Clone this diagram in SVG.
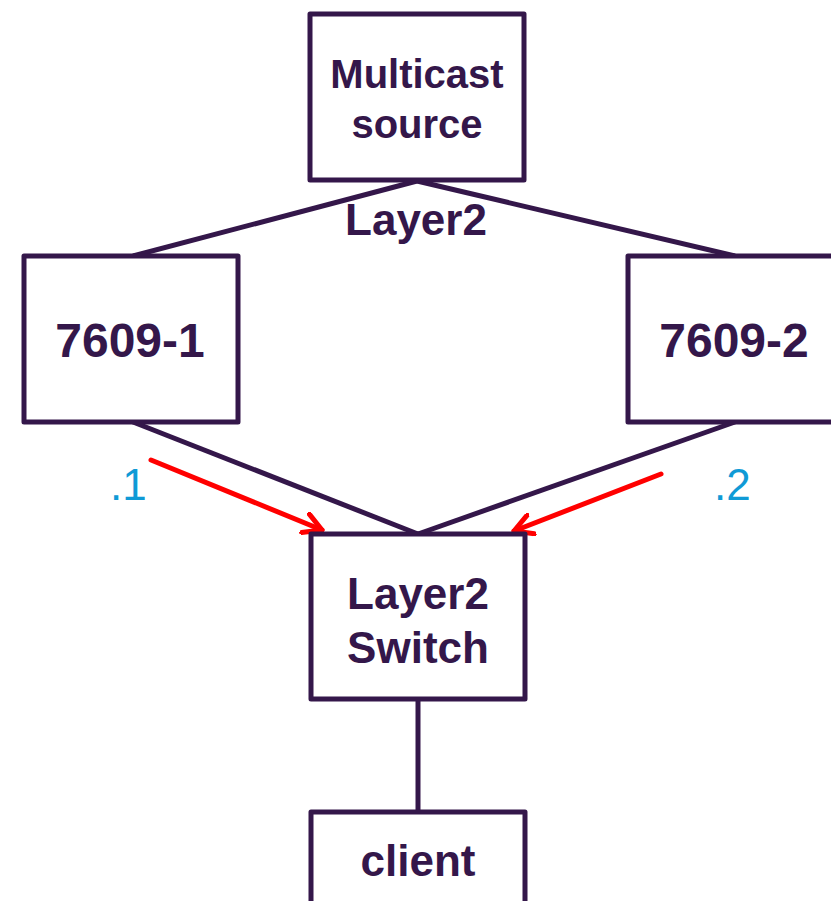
<svg xmlns="http://www.w3.org/2000/svg" width="831" height="901" viewBox="0 0 831 901">
<defs>
<style>
.box{fill:#fff;stroke:#34174a;stroke-width:5;stroke-linejoin:round}
.lbl{font-family:"Liberation Sans",Arial,sans-serif;font-weight:bold;fill:#34174a;text-anchor:middle}
.conn{stroke:#34174a;stroke-width:5;fill:none}
.red{stroke:#ff0000;stroke-width:5;fill:none;stroke-linecap:round}
.ip{font-family:"Liberation Sans",Arial,sans-serif;font-size:44px;fill:#0f9ad6}
</style>
<marker id="ah" viewBox="0 0 24 24" refX="20" refY="12" markerWidth="24" markerHeight="24" markerUnits="userSpaceOnUse" orient="auto">
<path d="M2,2 L20,12 L2,22" fill="none" stroke="#ff0000" stroke-width="5" stroke-linecap="round" stroke-linejoin="round"/>
</marker>
</defs>
<rect width="831" height="901" fill="#fff"/>
<g id="connectors">
<line class="conn" x1="417" y1="181" x2="133" y2="256"/>
<line class="conn" x1="417" y1="181" x2="735" y2="256"/>
<line class="conn" x1="133" y1="422" x2="418" y2="534"/>
<line class="conn" x1="735" y1="422" x2="418" y2="534"/>
<line class="conn" x1="418" y1="699" x2="418" y2="812"/>
<line class="red" x1="151" y1="460" x2="322" y2="530" marker-end="url(#ah)"/>
<line class="red" x1="661" y1="474" x2="514" y2="531" marker-end="url(#ah)"/>
</g>
<g id="source">
<rect class="box" x="310" y="14" width="214" height="166"/>
<text class="lbl" x="417" y="88" font-size="40">Multicast</text>
<text class="lbl" x="417" y="138" font-size="40">source</text>
</g>
<text class="lbl" x="416" y="235" font-size="44">Layer2</text>
<g id="r1">
<rect class="box" x="24" y="256" width="214" height="166"/>
<text class="lbl" x="130" y="357" font-size="48">7609-1</text>
</g>
<g id="r2">
<rect class="box" x="628" y="256" width="214" height="166"/>
<text class="lbl" x="734" y="357" font-size="48">7609-2</text>
</g>
<g id="switch">
<rect class="box" x="311" y="534" width="214" height="165"/>
<text class="lbl" x="418" y="609" font-size="44">Layer2</text>
<text class="lbl" x="418" y="663" font-size="44">Switch</text>
</g>
<g id="client">
<rect class="box" x="311" y="812" width="214" height="166"/>
<text class="lbl" x="418" y="876" font-size="44">client</text>
</g>
<text class="ip" x="110" y="500">.1</text>
<text class="ip" x="714" y="500">.2</text>
</svg>
